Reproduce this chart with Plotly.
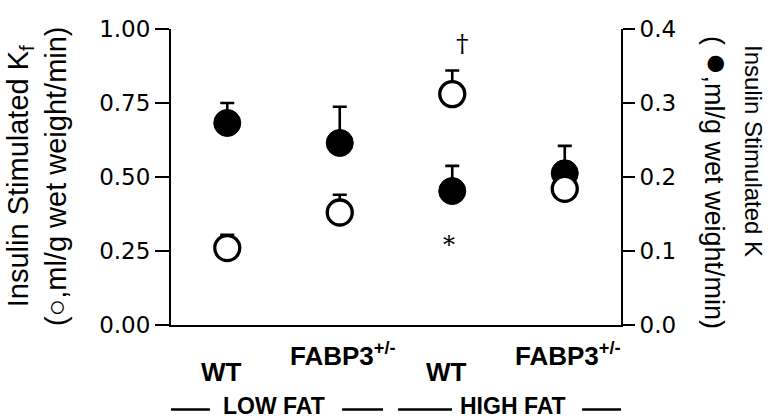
import plotly.graph_objects as go

# ---- data ----
categories = ["WT", "FABP3<sup>+/-</sup>", "WT", "FABP3<sup>+/-</sup>"]
diet_groups = ["LOW FAT", "HIGH FAT"]
x_pos = [1, 2, 3, 4]
kf_open = [0.26, 0.38, 0.78, 0.46]          # left axis (open circles)
kf_open_err = [0.045, 0.06, 0.08, 0.09]
k_filled = [0.273, 0.246, 0.181, 0.205]     # right axis (filled circles)
k_filled_err = [0.027, 0.049, 0.034, 0.037]
left_ticks = [0, 0.25, 0.5, 0.75, 1.0]
right_ticks = [0, 0.1, 0.2, 0.3, 0.4]

W, H = 771, 420
ML, MR, MT, MB = 171, 150, 29, 95
PW = W - ML - MR
PH = H - MT - MB

def px_to_paper_x(px):
    return (px - ML) / PW

def px_to_paper_y(py):
    return (H - MB - py) / PH

fig = go.Figure()

# filled circles (right scale) - on main axis so open circles overlay them
fig.add_trace(go.Scatter(
    x=x_pos, y=k_filled, mode="markers", yaxis="y", showlegend=False,
    marker=dict(size=27, color="black", line=dict(width=1, color="black")),
    error_y=dict(type="data", array=k_filled_err, arrayminus=[0] * len(k_filled),
                 symmetric=False, color="black", thickness=2.6, width=7),
))
# open circles (left scale)
fig.add_trace(go.Scatter(
    x=x_pos, y=kf_open, mode="markers", yaxis="y2", showlegend=False,
    marker=dict(size=25, color="white", line=dict(width=3.3, color="black")),
    error_y=dict(type="data", array=kf_open_err, arrayminus=[0] * len(kf_open),
                 symmetric=False, color="black", thickness=2.6, width=7),
))

tick_font = dict(family="DejaVu Sans", size=23, color="black")

annotations = []
# category labels (staggered)
for i, (xv, lab) in enumerate(zip(x_pos, categories)):
    low = (i % 2 == 0)
    annotations.append(dict(
        x=xv, xref="x", y=px_to_paper_y(372 if low else 354), yref="paper",
        xshift=-6 if low else 3,
        text="<b>%s</b>" % lab, showarrow=False, xanchor="center", yanchor="middle",
        font=dict(family="Liberation Sans", size=26, color="black"),
    ))
# diet group labels
group_centers = [(x_pos[0] + x_pos[1]) / 2, (x_pos[2] + x_pos[3]) / 2]
group_shifts = [-10, 4]
for gc, g, sh in zip(group_centers, diet_groups, group_shifts):
    annotations.append(dict(
        x=gc, xref="x", y=px_to_paper_y(406), yref="paper", xshift=sh,
        text="<b>%s</b>" % g, showarrow=False, xanchor="center", yanchor="middle",
        font=dict(family="Liberation Sans", size=23, color="black"),
    ))
# significance marks
annotations.append(dict(x=x_pos[2] + 0.09, xref="x", y=0.95, yref="y2", text="†",
                        showarrow=False, font=dict(family="DejaVu Serif", size=25, color="black")))
annotations.append(dict(x=x_pos[2] - 0.03, xref="x", y=0.27, yref="y2", text="*",
                        showarrow=False, font=dict(family="DejaVu Serif", size=24, color="black")))
# left title
annotations.append(dict(
    x=px_to_paper_x(37), xref="paper", y=px_to_paper_y(176), yref="paper",
    text="Insulin Stimulated K<sub>f</sub><br>(○,ml/g wet weight/min)",
    textangle=-90, showarrow=False, xanchor="center", yanchor="middle",
    font=dict(family="Liberation Sans", size=29, color="black"),
))
# right title (two lines)
annotations.append(dict(
    x=px_to_paper_x(754), xref="paper", y=px_to_paper_y(151), yref="paper",
    text="Insulin Stimulated K", textangle=90, showarrow=False,
    xanchor="center", yanchor="middle",
    font=dict(family="Liberation Sans", size=24, color="black"),
))
annotations.append(dict(
    x=px_to_paper_x(718), xref="paper", y=px_to_paper_y(182), yref="paper",
    text="( <span style='font-size:38px'>●</span>,ml/g wet weight/min)", textangle=90,
    showarrow=False, xanchor="center", yanchor="middle",
    font=dict(family="Liberation Sans", size=27, color="black"),
))

# dashes around diet group labels
def xd(px):
    return 0.5 + (px - ML) / PW * 4

shapes = []
for a, b in [(168, 210), (342, 383), (398, 452), (582, 633)]:
    shapes.append(dict(type="line", xref="x", yref="paper", x0=xd(a), x1=xd(b),
                       y0=px_to_paper_y(409.5), y1=px_to_paper_y(409.5),
                       line=dict(color="black", width=2.5)))

fig.update_layout(
    width=W, height=H,
    margin=dict(l=ML, r=MR, t=MT, b=MB, autoexpand=False),
    paper_bgcolor="white", plot_bgcolor="white",
    showlegend=False,
    xaxis=dict(range=[0.5, 4.5], showline=True, linecolor="black", linewidth=2,
               showticklabels=False, ticks="", showgrid=False, zeroline=False,
               fixedrange=True),
    yaxis=dict(side="right", range=[0, 0.4], tickvals=right_ticks,
               ticktext=["%.1f" % v for v in right_ticks],
               ticks="outside", ticklen=12, tickwidth=2, tickcolor="black",
               showline=True, linecolor="black", linewidth=2,
               showgrid=False, zeroline=False, tickfont=tick_font),
    yaxis2=dict(side="left", overlaying="y", range=[0, 1], tickvals=left_ticks,
                ticktext=["%.2f" % v for v in left_ticks],
                ticks="outside", ticklen=14, tickwidth=2, tickcolor="black",
                showline=True, linecolor="black", linewidth=2,
                showgrid=False, zeroline=False, tickfont=tick_font),
    annotations=annotations,
    shapes=shapes,
)

fig.write_html("out.html", config={"displayModeBar": False},
               post_script="document.body.style.margin='0';document.body.style.padding='0';")
